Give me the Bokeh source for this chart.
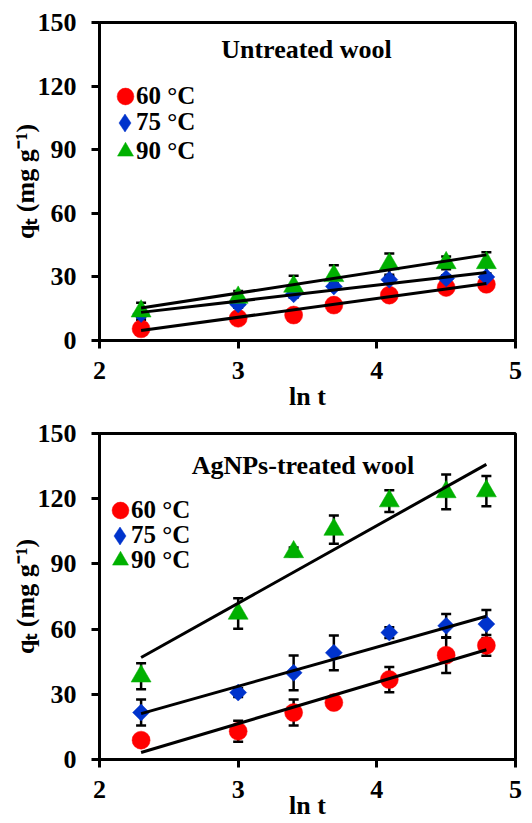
import numpy as np
from bokeh.plotting import figure
from bokeh.layouts import column
from bokeh.models import (ColumnDataSource, Whisker, TeeHead, Legend, LegendItem,
                          Label, FixedTicker)
from bokeh.embed import file_html
from bokeh.resources import INLINE

# ---------------- data ----------------
ln_t = [2.30, 3.00, 3.40, 3.69, 4.09, 4.50, 4.79]
temps = ["60 °C", "75 °C", "90 °C"]

# Untreated wool
untreated_60 = [5.5, 10.5, 12.0, 16.7, 21.4, 25.0, 26.5]
untreated_75 = [12.5, 17.0, 21.8, 25.5, 28.7, 29.3, 30.0]
untreated_90 = [13.8, 20.3, 25.5, 30.5, 36.0, 36.6, 36.6]
untreated_err_60 = [1.0, 1.0, 1.0, 1.0, 1.0, 1.0, 1.0]
untreated_err_75 = [1.5, 1.5, 1.5, 1.5, 1.5, 1.5, 1.5]
untreated_err_90 = [4.0, 3.0, 5.0, 5.0, 5.0, 3.0, 5.0]
untreated_fit_slope = [8.88, 7.55, 10.08]
untreated_fit_intercept = [-15.7, -4.1, -7.9]

# AgNPs-treated wool
treated_60 = [8.9, 13.0, 21.6, 26.2, 36.8, 48.0, 52.5]
treated_75 = [21.6, 30.8, 39.9, 49.1, 58.4, 61.5, 62.3]
treated_90 = [38.3, 67.2, 95.5, 105.8, 118.9, 123.1, 123.5]
treated_err_60 = [2.0, 4.8, 6.0, 2.0, 5.8, 8.2, 4.8]
treated_err_75 = [6.0, 2.0, 8.0, 8.0, 2.5, 5.5, 6.5]
treated_err_90 = [6.0, 7.0, 2.0, 6.5, 5.0, 8.0, 7.0]
treated_fit_slope = [19.0, 18.0, 35.7]
treated_fit_intercept = [-40.5, -20.3, -35.2]

x_ticks = [2, 3, 4, 5]
y_ticks = [0, 30, 60, 90, 120, 150]
x_label = "ln t"
y_label = "q\u209c (mg g\u207b\u00b9)"

# ---------------- style ----------------
FONT = "Liberation Serif"
COLORS = ["#FF0000", "#0033CC", "#00B000"]
MARKERS = ["circle", "square", "triangle"]
LEGEND_MARKERS = ["circle", "diamond", "triangle"]
ANGLES = [0.0, np.pi / 4, 0.0]
SIZES = [18, 12, 20]


def make_panel(title, series, errs, slopes, intercepts, geo):
    p = figure(width=532, height=geo["height"], x_range=(2, 5), y_range=(0, 150),
               output_backend="svg", toolbar_location=None,
               min_border_left=99, min_border_right=17,
               min_border_top=geo["top"], min_border_bottom=geo["bottom"])
    p.background_fill_color = "white"
    p.border_fill_color = "white"
    p.grid.visible = False
    p.outline_line_color = "black"
    p.outline_line_width = 3
    p.xaxis.ticker = FixedTicker(ticks=x_ticks)
    p.yaxis.ticker = FixedTicker(ticks=y_ticks)
    for ax in (p.xaxis[0], p.yaxis[0]):
        ax.axis_line_width = 3
        ax.axis_line_color = "black"
        ax.major_tick_line_width = 3
        ax.major_tick_line_color = "black"
        ax.major_tick_out = 8
        ax.major_tick_in = 0
        ax.minor_tick_line_color = None
        ax.major_label_text_font = FONT
        ax.major_label_text_font_style = "bold"
        ax.major_label_text_font_size = "26px"
        ax.major_label_text_color = "black"
        ax.axis_label_text_font = FONT
        ax.axis_label_text_font_style = "bold"
        ax.axis_label_text_font_size = "26px"
        ax.axis_label_text_color = "black"
    p.yaxis.major_label_standoff = 15
    p.xaxis.major_label_standoff = 13
    p.xaxis.axis_label = x_label
    p.yaxis.axis_label = y_label
    p.xaxis.axis_label_standoff = geo["xlab_standoff"]
    p.yaxis.axis_label_standoff = -5

    renderers = []
    key_renderers = []
    for i in range(3):
        vals = series[i]
        err = errs[i]
        src = ColumnDataSource(dict(
            x=ln_t, y=vals,
            upper=[v + e for v, e in zip(vals, err)],
            lower=[v - e for v, e in zip(vals, err)]))
        w = Whisker(base="x", upper="upper", lower="lower", source=src,
                    dimension="height", line_color="black", line_width=2.5,
                    level="underlay",
                    upper_head=TeeHead(size=10, line_width=2.5, line_color="black"),
                    lower_head=TeeHead(size=10, line_width=2.5, line_color="black"))
        p.add_layout(w)
        r = p.scatter("x", "y", source=src, marker=MARKERS[i], size=SIZES[i],
                      angle=ANGLES[i], fill_color=COLORS[i], line_color=COLORS[i],
                      line_width=0.5)
        renderers.append(r)
        if LEGEND_MARKERS[i] != MARKERS[i]:
            # legend key only (same series, not shown in the plot area)
            kr = p.scatter("x", "y", source=src, marker=LEGEND_MARKERS[i], size=SIZES[i],
                           fill_color=COLORS[i], line_color=COLORS[i], line_width=0.5,
                           visible=False)
            key_renderers.append(kr)
        else:
            key_renderers.append(r)

    for i in range(3):
        xs = [ln_t[0], ln_t[-1]]
        ys = [slopes[i] * x + intercepts[i] for x in xs]
        p.line(xs, ys, line_color="black", line_width=3)

    # title inside the frame
    p.add_layout(Label(x=geo["title"][0], y=geo["title"][1], x_units="screen",
                       y_units="screen", text=title, text_align="center",
                       text_baseline="alphabetic", text_font=FONT,
                       text_font_style="bold", text_font_size="26px",
                       text_color="black"))

    common = dict(padding=0, margin=0, spacing=0, border_line_color=None,
                  background_fill_alpha=0, inactive_fill_alpha=0,
                  label_text_font=FONT, label_text_font_style="bold",
                  label_text_font_size="25px", label_text_color="black")
    # legend keys (one legend per key so each marker gets its own size)
    for i in range(3):
        left, bottom, g = geo["keys"][i]
        p.add_layout(Legend(items=[LegendItem(label=" ", renderers=[key_renderers[i]])],
                            location=(left, bottom), glyph_width=g, glyph_height=g,
                            label_standoff=0, **common))
    # legend texts
    for i in range(3):
        left, bottom = geo["texts"][i]
        p.add_layout(Legend(items=[LegendItem(label=temps[i], renderers=[renderers[i]])],
                            location=(left, bottom), glyph_width=0, glyph_height=34,
                            label_standoff=0, **common))
    return p


# positions in screen pixels measured from each frame's bottom-left corner
geo_top = dict(height=413, top=22, bottom=72, xlab_standoff=0,
               title=(207, 291),
               keys=[(4.5, 223.3, 42), (3.0, 195.2, 45), (5.5, 169.3, 40)],
               texts=[(37, 227.3), (37, 200.7), (37, 172.3)])
geo_bot = dict(height=410, top=20, bottom=64, xlab_standoff=-10,
               title=(203.5, 294),
               keys=[(-0.5, 228.0, 42), (-2.0, 201.5, 45), (0.5, 179.0, 40)],
               texts=[(32, 232), (32, 207), (32, 182)])

p1 = make_panel("Untreated wool",
                [untreated_60, untreated_75, untreated_90],
                [untreated_err_60, untreated_err_75, untreated_err_90],
                untreated_fit_slope, untreated_fit_intercept, geo_top)
p2 = make_panel("AgNPs-treated wool",
                [treated_60, treated_75, treated_90],
                [treated_err_60, treated_err_75, treated_err_90],
                treated_fit_slope, treated_fit_intercept, geo_bot)

layout = column(p1, p2, spacing=0)
open("out.html", "w").write(file_html(layout, INLINE))
